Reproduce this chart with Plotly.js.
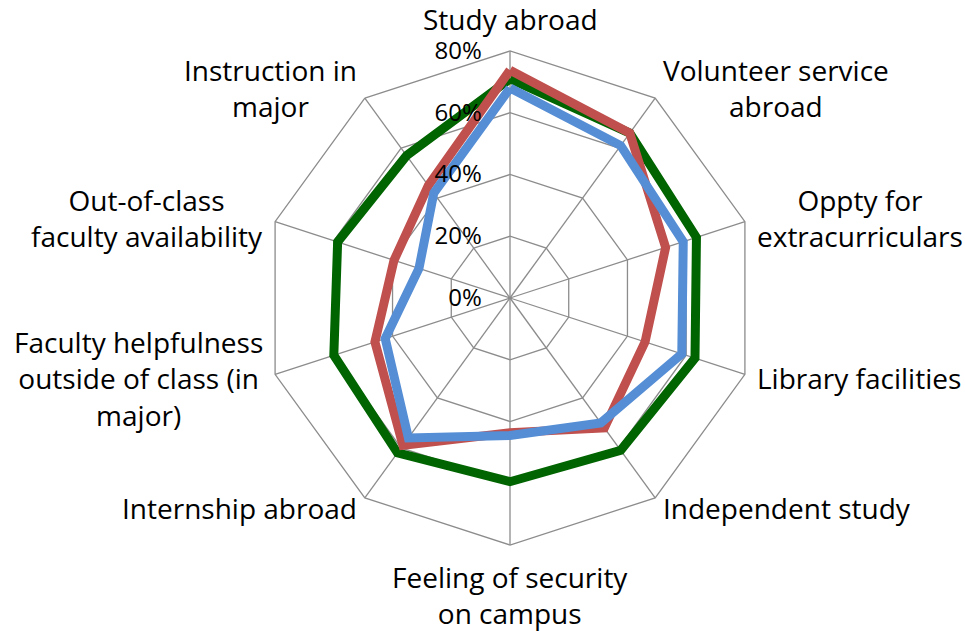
<!DOCTYPE html>
<html>
<head>
<meta charset="utf-8">
<script src="https://cdn.plot.ly/plotly-3.0.1.min.js"></script>
<style>html,body{margin:0;padding:0;background:#fff;}#chart{width:965px;height:631px;}</style>
</head>
<body>
<div id="chart"></div>
<script>
const categories = [
  "Study abroad",
  "Volunteer service<br>abroad",
  "Oppty for<br>extracurriculars",
  "Library facilities",
  "Independent study",
  "Feeling of security<br>on campus",
  "Internship abroad",
  "Faculty helpfulness<br>outside of class (in<br>major)",
  "Out-of-class<br>faculty availability",
  "Instruction in<br>major"
];
const greenValues = [0.71, 0.66, 0.635, 0.63, 0.61, 0.595, 0.62, 0.60, 0.587, 0.57];
const redValues   = [0.738, 0.66, 0.53, 0.46, 0.52, 0.436, 0.59, 0.46, 0.395, 0.45];
const blueValues  = [0.68, 0.61, 0.59, 0.585, 0.50, 0.445, 0.56, 0.425, 0.31, 0.42];
const radialTicks = [0, 0.2, 0.4, 0.6, 0.8];
const radialTickText = ["0%", "20%", "40%", "60%", "80%"];

function closed(a){ return a.concat([a[0]]); }

const traces = [
  {values: greenValues, color: "#006400", name: "Series 1"},
  {values: redValues, color: "#C0504D", name: "Series 2"},
  {values: blueValues, color: "#558ED5", name: "Series 3"}
].map(s => ({
  type: "scatterpolar",
  r: closed(s.values),
  theta: closed(categories),
  mode: "lines",
  name: s.name,
  line: {color: s.color, width: 9},
  hoverinfo: "skip"
}));

const W = 965, H = 631;
const M = {l: 0, r: 0, t: 51, b: 86};
const cx = 510, R = 247;
const plotH = H - M.t - M.b;
const cy = M.t + plotH / 2;

// category labels placed just outside the outer ring, lines centred
const labelGap = 12;
const annotations = categories.map((txt, i) => {
  const a = i * 2 * Math.PI / categories.length;
  const dx = Math.sin(a), dy = -Math.cos(a);
  const px = cx + (R + labelGap) * dx;
  const py = cy + (R + labelGap) * dy;
  return {
    text: txt,
    xref: "paper", yref: "paper",
    x: (px - M.l) / (W - M.l - M.r),
    y: (M.t + plotH - py) / plotH,
    xanchor: dx > 0.1 ? "left" : (dx < -0.1 ? "right" : "center"),
    yanchor: Math.abs(dx) > 0.1 ? "middle" : (dy < 0 ? "bottom" : "top"),
    align: "center",
    showarrow: false,
    borderpad: 0,
    font: {size: 28, color: "#000"}
  };
});

// keep radial tick labels clear of the vertical spoke
const tickPad = "\u2002\u2002";

const layout = {
  width: W, height: H,
  margin: {l: M.l, r: M.r, t: M.t, b: M.b, pad: 0},
  paper_bgcolor: "#fff",
  plot_bgcolor: "#fff",
  showlegend: false,
  font: {family: "Open Sans, sans-serif", size: 26, color: "#000"},
  annotations: annotations,
  polar: {
    domain: {x: [(cx - R) / W, (cx + R) / W], y: [0, 1]},
    bgcolor: "#fff",
    gridshape: "linear",
    radialaxis: {
      range: [0, 0.8],
      tickvals: radialTicks,
      ticktext: radialTickText.map(t => t + tickPad),
      angle: 90,
      side: "counterclockwise",
      tickangle: 90,
      showline: false,
      ticks: "",
      gridcolor: "#8c8c8c",
      gridwidth: 1.3,
      tickfont: {size: 24, color: "#000"}
    },
    angularaxis: {
      rotation: 90,
      direction: "clockwise",
      showline: true,
      linecolor: "#8c8c8c",
      linewidth: 1.3,
      gridcolor: "#8c8c8c",
      gridwidth: 1.3,
      ticks: "",
      showticklabels: false
    }
  }
};

Plotly.newPlot("chart", traces, layout, {staticPlot: true, displayModeBar: false});
</script>
</body>
</html>
